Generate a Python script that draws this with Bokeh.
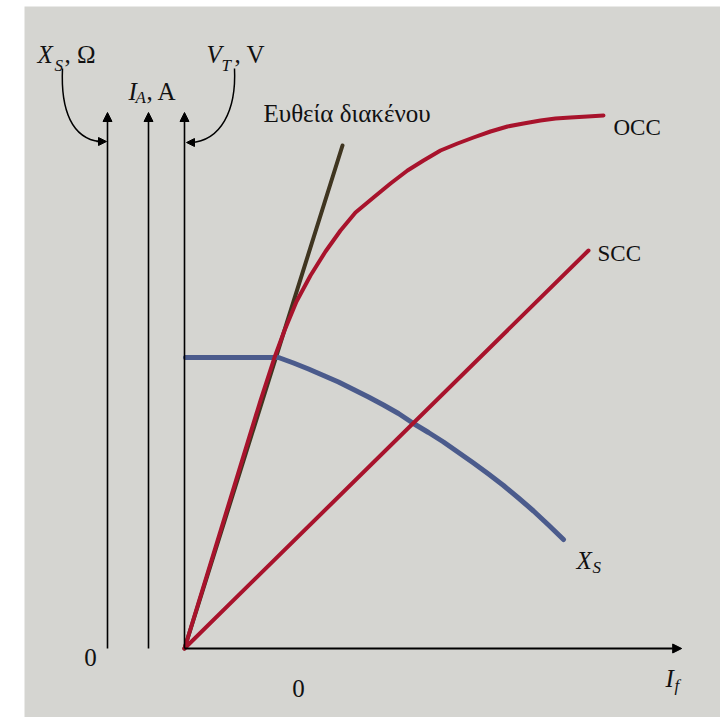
from bokeh.plotting import figure
from bokeh.models import Range1d, Arrow, NormalHead
from bokeh.core.properties import value
from bokeh.embed import file_html
from bokeh.resources import INLINE

# ---- data (field current I_f on x, per-unit quantities on y) ----
occ_if = [0.0, 1.9, 2.25, 2.5, 2.8, 3.15, 3.525, 3.9, 4.275, 4.725, 5.15, 5.575, 5.975,
          6.4, 6.825, 7.225, 7.65, 8.075, 8.475, 8.9, 9.275, 9.65, 10.075, 10.475]
occ_v = [0.0, 4.96, 5.82, 6.36, 6.94, 7.46, 7.94, 8.36, 8.72, 9.02, 9.3, 9.56, 9.76,
         9.96, 10.1, 10.22, 10.34, 10.44, 10.5, 10.56, 10.6, 10.62, 10.64, 10.66]

scc_if = [0.0, 10.1]
scc_ia = [0.0, 7.96]

airgap_if = [0.0, 3.95]
airgap_v = [0.0, 10.06]

xs_if = [0.025, 2.35, 2.725, 3.1, 3.475, 3.85, 4.225, 4.6, 4.975, 5.35, 5.725, 6.1, 6.475,
         6.85, 7.225, 7.6, 7.975, 8.35, 8.725, 9.1, 9.475]
xs_val = [5.82, 5.82, 5.71, 5.59, 5.46, 5.33, 5.18, 5.03, 4.87, 4.7, 4.5, 4.32, 4.13,
          3.92, 3.71, 3.49, 3.26, 3.01, 2.75, 2.47, 2.18]

axis_names = ["X_S", "I_A", "V_T"]
axis_x = [-1.925, -0.9, 0.0]
axis_top = 10.72
if_axis_end = 12.43

SERIF = value("Liberation Serif")
RED = "#a8132c"
BLUE = "#4b5b8c"
OLIVE = "#3f3520"

p = figure(width=720, height=717, output_backend="svg", toolbar_location=None,
           x_range=Range1d(-4.6, 13.4), y_range=Range1d(-1.38, 12.96),
           x_axis_location=None, y_axis_location=None, min_border=0)
p.grid.visible = False
p.outline_line_color = None
p.background_fill_color = "white"
p.border_fill_color = "white"

# photo-like paper background
p.quad(left=-4.0, right=13.5, bottom=-1.5, top=12.84, fill_color="#d5d5d1", line_color=None)

# axes
for ax in axis_x:
    p.add_layout(Arrow(end=NormalHead(size=9, fill_color="black", line_color="black"),
                       x_start=ax, y_start=0.0, x_end=ax, y_end=axis_top,
                       line_width=1.6, line_color="black"))
p.add_layout(Arrow(end=NormalHead(size=9, fill_color="black", line_color="black"),
                   x_start=0.0, y_start=0.0, x_end=if_axis_end, y_end=0.0,
                   line_width=2, line_color="black"))

# curves
p.line(airgap_if, airgap_v, line_color=OLIVE, line_width=4, line_cap="round")
p.line(xs_if, xs_val, line_color=BLUE, line_width=5, line_cap="round", line_join="round")
p.line(occ_if, occ_v, line_color=RED, line_width=4, line_cap="round", line_join="round")
p.line(scc_if, scc_ia, line_color=RED, line_width=4, line_cap="round")

# curved pointer arrows from the axis labels
p.bezier(x0=[-3.05], y0=[11.6], x1=[-2.12], y1=[10.14],
         cx0=[-3.1], cy0=[10.75], cx1=[-2.8], cy1=[10.2], line_color="black", line_width=1.5)
p.add_layout(Arrow(end=NormalHead(size=8, fill_color="black", line_color="black"),
                   x_start=-2.2, y_start=10.14, x_end=-1.95, y_end=10.14, line_width=1.5))
p.bezier(x0=[1.25], y0=[11.6], x1=[0.15], y1=[10.12],
         cx0=[1.3], cy0=[10.75], cx1=[0.9], cy1=[10.15], line_color="black", line_width=1.5)
p.add_layout(Arrow(end=NormalHead(size=8, fill_color="black", line_color="black"),
                   x_start=0.25, y_start=10.12, x_end=0.05, y_end=10.12, line_width=1.5))


def txt(x, y, s, size="25px", style="normal", align="left"):
    p.text(x=[x], y=[y], text=[s], text_font=SERIF, text_font_size=size,
           text_font_style=style, text_align=align, text_baseline="alphabetic",
           text_color="#111111")


def px(xp):
    return (xp - 184) / 40.0


def py(yp):
    return (648 - yp) / 50.0

# axis labels
txt(px(37), py(54), "X", style="italic")
txt(px(54), py(65), "S", size="17px", style="italic")
txt(px(64), py(54), ", Ω")
txt(px(128), py(91), "I", style="italic")
txt(px(135), py(97), "A", size="17px", style="italic")
txt(px(146), py(91), ", A")
txt(px(206), py(54), "V", style="italic")
txt(px(221), py(65), "T", size="17px", style="italic")
txt(px(234), py(54), ", V")

# curve labels
txt(px(263), py(113), "Ευθεία διακένου")
txt(px(613), py(127), "OCC", size="23px")
txt(px(597), py(253), "SCC", size="23px")
txt(px(576), py(560), "X", style="italic")
txt(px(592), py(567), "S", size="17px", style="italic")

# zeros and I_f
txt(px(90), py(657), "0", align="center")
txt(px(298), py(688), "0", align="center")
txt(px(665), py(678), "I", style="italic")
txt(px(674), py(685), "f", size="17px", style="italic")

open("out.html", "w").write(file_html(p, INLINE))
